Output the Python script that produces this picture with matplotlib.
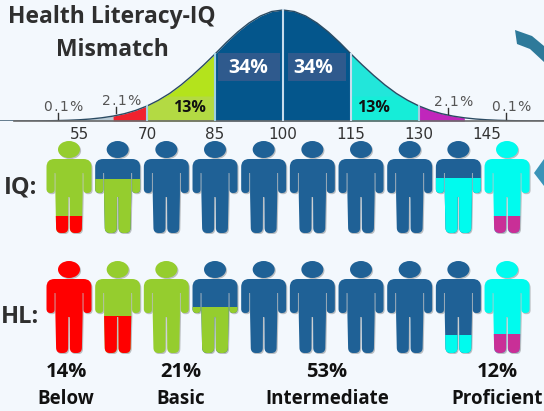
import matplotlib
matplotlib.use("Agg")
import matplotlib.pyplot as plt
from matplotlib.path import Path
from matplotlib.patches import PathPatch, Ellipse, Rectangle, Polygon
from matplotlib.transforms import Affine2D, ScaledTranslation

W, H = 544, 411
BG = "#f3f8fd"
DARK = "#2f2f2f"
FONT = "Open Sans"

# bell curve, height every 2.5 IQ points
curve = [0, 0, 0.1, 0.1, 0.2, 0.4, 0.7, 1.2, 2, 3.2, 4.9, 7.3, 10.6, 15, 20.7, 27.6, 36, 45.6, 56, 67,
         78.5, 89, 98, 105, 109.5, 111, 109.5, 105, 98, 89, 78.5, 67, 56, 45.6, 36, 27.6, 20.7, 15,
         10.6, 7.3, 4.9, 3.2, 2, 1.2, 0.7, 0.4, 0.2, 0.1, 0.1]
iq_grid = [37.5 + 2.5 * i for i in range(len(curve))]
iq_ticks = [55, 70, 85, 100, 115, 130, 145]
bands = [(62.5, 70, "#f0222e"), (70, 85, "#b4e31c"), (85, 115, "#04568c"),
         (115, 130, "#22e6da"), (130, 140, "#c026bb")]
small_labels = ["0.1%", "2.1%", "2.1%", "0.1%"]
small_iq = [50.4, 63.2, 136.4, 149.2]
small_h = [8, 14, 13, 8]

# people, one entry per figure: upper colour, lower colour, where the colour changes
COL = {"red": "#ff0000", "green": "#95cd2e", "blue": "#1f6196", "cyan": "#00fbee", "magenta": "#c92f97"}
iq_upper = ["green", "blue", "blue", "blue", "blue", "blue", "blue", "blue", "blue", "cyan"]
iq_lower = ["red", "green", "blue", "blue", "blue", "blue", "blue", "blue", "cyan", "magenta"]
iq_split = [0.81, 0.41, 1, 1, 1, 1, 1, 1, 0.40, 0.81]
hl_upper = ["red", "green", "green", "blue", "blue", "blue", "blue", "blue", "blue", "cyan"]
hl_lower = ["red", "red", "green", "green", "blue", "blue", "blue", "blue", "cyan", "magenta"]
hl_split = [1, 0.59, 1, 0.50, 1, 1, 1, 1, 0.80, 0.79]

levels = ["Below", "Basic", "Intermediate", "Proficient"]
level_pct = ["14%", "21%", "53%", "12%"]
level_x = [66, 181, 327, 497]


def rounded(points, radii):
    # closed path through the points, corners rounded with quadratic curves
    verts, codes = [], []
    n = len(points)
    for i in range(n):
        px, py = points[i]
        ax_, ay_ = points[i - 1]
        bx, by = points[(i + 1) % n]
        r = radii[i]
        la = max(((px - ax_) ** 2 + (py - ay_) ** 2) ** 0.5, 1e-6)
        lb = max(((px - bx) ** 2 + (py - by) ** 2) ** 0.5, 1e-6)
        ra, rb = min(r, la / 2), min(r, lb / 2)
        start = (px + (ax_ - px) * ra / la, py + (ay_ - py) * ra / la)
        end = (px + (bx - px) * rb / lb, py + (by - py) * rb / lb)
        verts.append(start)
        codes.append(Path.MOVETO if i == 0 else Path.LINETO)
        verts += [(px, py), end]
        codes += [Path.CURVE3, Path.CURVE3]
    verts.append(verts[0])
    codes.append(Path.CLOSEPOLY)
    return verts, codes


right_side = [(22.5, 18, 8), (22.5, 52, 4), (14.4, 52, 3.5), (14.4, 32, 0), (13.6, 32, 0), (13.6, 54, 2),
              (12.8, 92, 5), (0.9, 92, 5), (0.7, 56, 0)]
left_side = [(-x, y, r) for x, y, r in reversed(right_side)]
outline = right_side + left_side
SPACING = 48.67
body_verts, body_codes = rounded([(x, y) for x, y, r in outline], [r for x, y, r in outline])
body_path = Path([(x / SPACING, y / 93) for x, y in body_verts], body_codes)


def draw_people(ax, upper, lower, split):
    shift = ScaledTranslation(1.1 / 100, -1.2 / 100, ax.figure.dpi_scale_trans)
    for i in range(len(upper)):
        off = Affine2D().translate(i, 0)
        ax.add_patch(PathPatch(body_path, fc="#555555", ec="none", alpha=0.35, zorder=1,
                               transform=off + ax.transData + shift))
        ax.add_patch(Ellipse((i, 8.5 / 93), 22 / SPACING, 17 / 93, fc="#555555", ec="none",
                             alpha=0.35, zorder=1, transform=ax.transData + shift))
        body = PathPatch(body_path, fc=COL[upper[i]], ec="none", zorder=2, transform=off + ax.transData)
        ax.add_patch(body)
        ax.add_patch(Ellipse((i, 8.5 / 93), 22 / SPACING, 17 / 93, fc=COL[upper[i]], ec="none", zorder=2))
        if split[i] < 1:
            low = Rectangle((i - 0.5, split[i]), 1, 1 - split[i], fc=COL[lower[i]], ec="none", zorder=3)
            ax.add_patch(low)
            low.set_clip_path(body)


fig = plt.figure(figsize=(W / 100, H / 100), dpi=100, facecolor=BG)

# overlay in pixels for the decoration and the free labels
ov = fig.add_axes([0, 0, 1, 1], zorder=5)
ov.set_xlim(0, W)
ov.set_ylim(H, 0)
ov.axis("off")

# bell curve axes, x is IQ, y is height above the base line
ax = fig.add_axes([0, 1 - 121 / H, 1, 121 / H], facecolor="none")
ax.set_xlim(100 - 283 / 4.533, 100 + 261 / 4.533)
ax.set_ylim(0, 121)
ax.fill_between(iq_grid, 0, curve, where=[x <= 62.5 for x in iq_grid], color="#b9cbd6", lw=0)
for lo, hi, c in bands:
    ax.fill_between(iq_grid, 0, curve, where=[lo <= x <= hi for x in iq_grid], color=c, lw=0)
low_curve = [min(c, 25) for c in curve]
ax.fill_between(iq_grid, 0, low_curve, where=[70 <= x <= 85 for x in iq_grid], color="#b3d84e", alpha=0.8, lw=0, zorder=2)
ax.fill_between(iq_grid, 0, low_curve, where=[115 <= x <= 130 for x in iq_grid], color="#13f0d8", alpha=0.8, lw=0, zorder=2)
ax.plot(iq_grid, curve, color="#2b4b63", lw=1.0)
for x, c in [(70, "#a3cfe0"), (85, "#9fd0e2"), (100, "#c8dcec"), (115, "#c8dcec"), (130, "#a3cfe0")]:
    ax.plot([x, x], [0, curve[iq_grid.index(x)]], color=c, lw=1.5, zorder=3)
for i, lab in enumerate(small_labels):
    ax.plot([small_iq[i]] * 2, [small_h[i] - 6, small_h[i]], color="#333333", lw=1, zorder=3)
    ax.text(small_iq[i] + 1.3, small_h[i] + 6, "\u200a".join(lab), ha="center", va="center",
            fontsize=10, color="#555555", family="DejaVu Sans")
ax.text(79.3, 13, "13%", ha="center", va="center", fontsize=11.5, fontweight="bold", family=FONT, color="#111111", zorder=4)
ax.text(119.85, 13, "13%", ha="center", va="center", fontsize=11.5, fontweight="bold", family=FONT, color="#111111", zorder=4)
for lo, hi, tx in [(85.6, 99.3, 92.3), (101.2, 114, 106.6)]:
    ax.add_patch(Rectangle((lo, 40), hi - lo, 28, fc="#2f5a8d", ec="none", zorder=3))
    ax.text(tx, 53, "34%", ha="center", va="center", fontsize=14, fontweight="bold", family=FONT, color="white", zorder=4)
for s in ["top", "left", "right"]:
    ax.spines[s].set_visible(False)
ax.spines["bottom"].set_color("#6b6b6b")
ax.spines["bottom"].set_linewidth(1.2)
ax.spines["bottom"].set_bounds(100 - 269 / 4.533, 100 + 261 / 4.533)
ax.set_yticks([])
ax.set_xticks(iq_ticks)
ax.tick_params(axis="x", length=0, pad=4, labelsize=11, labelcolor="#333333")

# two rows of figures, x is the figure number, y runs from head top to feet
for top, upper, lower, split in [(141, iq_upper, iq_lower, iq_split), (261, hl_upper, hl_lower, hl_split)]:
    row = fig.add_axes([0, 1 - (top + 93) / H, 1, 93 / H], facecolor="none")
    row.set_xlim(-69 / SPACING, (W - 69) / SPACING)
    row.set_ylim(1, 0)
    row.axis("off")
    draw_people(row, upper, lower, split)

# title and row labels
ov.text(112, 17, "Health Literacy-IQ", ha="center", va="center", fontsize=16.5, fontweight="bold", family=FONT, color=DARK)
ov.text(112, 50, "Mismatch", ha="center", va="center", fontsize=16.5, fontweight="bold", family=FONT, color=DARK)
ov.text(21, 187, "IQ:", ha="center", va="center", fontsize=17, fontweight="bold", family=FONT, color=DARK)
ov.text(20, 317, "HL:", ha="center", va="center", fontsize=17, fontweight="bold", family=FONT, color=DARK)
for i in range(len(levels)):
    ov.text(level_x[i], 372, level_pct[i], ha="center", va="center", fontsize=14.5, fontweight="bold", family=FONT, color="#111111")
    ov.text(level_x[i], 399, levels[i], ha="center", va="center", fontsize=13.5, fontweight="bold", family=FONT, color="#111111")

# bits of the arrows cut off at the right edge
ov.add_patch(Polygon([(515, 30), (517, 44), (530, 49), (544, 62), (544, 46), (532, 36)], fc="#2e7a9a", ec="none"))
ov.add_patch(Polygon([(534, 173), (544, 159), (544, 186)], fc="#3a94b8", ec="none"))

fig.savefig("out.png", dpi=100, facecolor=BG)
